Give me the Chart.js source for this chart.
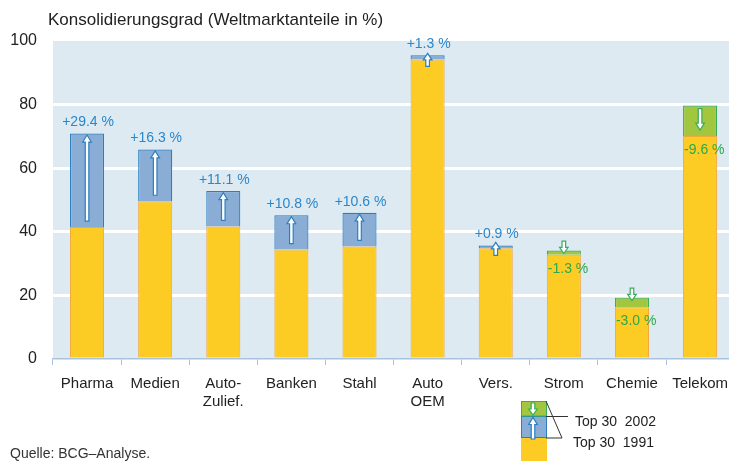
<!DOCTYPE html>
<html>
<head>
<meta charset="utf-8">
<script src="https://cdn.jsdelivr.net/npm/chart.js@4"></script>
<style>
  html, body { margin: 0; padding: 0; background: #fff; overflow: hidden; }
  #wrap { position: absolute; left: 0; top: 0; width: 737px; height: 461px; }
</style>
</head>
<body>
<div id="wrap"><canvas id="c"></canvas></div>
<script>
// ---- data ----
const categories = ["Pharma", "Medien", ["Auto-", "Zulief."], "Banken", "Stahl", ["Auto", "OEM"], "Vers.", "Strom", "Chemie", "Telekom"];
const top30_1991 = [41.5, 49.6, 41.7, 34.4, 35.4, 94.2, 34.8, 34.1, 19.3, 79.7];
const top30_2002 = [70.9, 65.9, 52.8, 45.2, 46.0, 95.5, 35.7, 32.8, 16.3, 70.1];
const yTicks = [0, 20, 40, 60, 80, 100];
const titleText = "Konsolidierungsgrad (Weltmarktanteile in %)";
const sourceText = "Quelle: BCG\u2013Analyse.";
const legendLabels = ["Top 30  2002", "Top 30  1991"];

// derived stacks
const baseVals = top30_1991.map((a, i) => Math.min(a, top30_2002[i]));
const incVals = top30_1991.map((a, i) => top30_2002[i] > a ? +(top30_2002[i] - a).toFixed(1) : null);
const decVals = top30_1991.map((a, i) => top30_2002[i] < a ? +(a - top30_2002[i]).toFixed(1) : null);

const COL = {
  yellow: '#FCCB24', yellowB: '#F2A83A',
  blue: '#8AADD6', blueB: '#2B7EC1', blueT: '#2A87CA',
  green: '#A2C73F', greenB: '#38AD5C', greenT: '#2AAA4C',
  bg: '#DDEAF2', axis: '#A9C3DF', text: '#222'
};

function drawArrow(ctx, x, yTail, yTip, stroke) {
  const dir = yTip < yTail ? -1 : 1;
  const len = Math.abs(yTip - yTail);
  const hl = Math.min(7, len * 0.5);
  const sw = 1.8, hw = 4.3;
  const yh = yTip - dir * hl;
  ctx.save();
  ctx.beginPath();
  ctx.moveTo(x - sw, yTail);
  ctx.lineTo(x - sw, yh);
  ctx.lineTo(x - hw, yh);
  ctx.lineTo(x, yTip);
  ctx.lineTo(x + hw, yh);
  ctx.lineTo(x + sw, yh);
  ctx.lineTo(x + sw, yTail);
  ctx.closePath();
  ctx.fillStyle = '#fff';
  ctx.fill();
  ctx.lineWidth = 1.2;
  ctx.strokeStyle = stroke;
  ctx.stroke();
  ctx.restore();
}

const bgPlugin = {
  id: 'bg',
  beforeDraw(chart) {
    const { ctx, chartArea: a } = chart;
    ctx.save();
    ctx.fillStyle = COL.bg;
    ctx.fillRect(a.left, a.top, a.right - a.left, a.bottom - a.top);
    ctx.restore();
  }
};

const decoPlugin = {
  id: 'deco',
  afterDatasetsDraw(chart) {
    const ctx = chart.ctx;
    const incMeta = chart.getDatasetMeta(1);
    const decMeta = chart.getDatasetMeta(2);
    ctx.save();
    ctx.font = '14px "Liberation Sans", Arial, sans-serif';
    ctx.textBaseline = 'middle';
    categories.forEach((c, i) => {
      const diff = top30_2002[i] - top30_1991[i];
      const label = (diff >= 0 ? '+' : '-') + Math.abs(diff).toFixed(1) + ' %';
      if (incVals[i] !== null) {
        const el = incMeta.data[i];
        const top = el.y, bot = el.base;
        let tip = top + 1.5, tail = bot - 6;
        if (tail - tip < 13) { tail = bot + 7; tip = tail - 13; }
        drawArrow(ctx, el.x, tail, tip, COL.blueB);
        ctx.fillStyle = COL.blueT;
        ctx.textAlign = 'center';
        ctx.fillText(label, el.x + 1, top - 11);
      } else if (decVals[i] !== null) {
        const el = decMeta.data[i];
        const top = el.y, bot = el.base;
        let tail = top + 3, tip = bot - 6;
        if (tip - tail < 13) { tip = top + 3; tail = tip - 12.5; }
        drawArrow(ctx, el.x, tail, tip, COL.greenB);
        ctx.fillStyle = COL.greenT;
        ctx.textAlign = 'left';
        ctx.fillText(label, el.x - el.width / 2 + 1, bot + 14);
      }
    });
    ctx.restore();
  },
  afterDraw(chart) {
    const ctx = chart.ctx;
    ctx.save();
    // title
    ctx.fillStyle = COL.text;
    ctx.font = '17px "Liberation Sans", Arial, sans-serif';
    ctx.textBaseline = 'middle';
    ctx.textAlign = 'left';
    ctx.fillText(titleText, 48, 20);
    // source
    ctx.fillStyle = '#333';
    ctx.font = '14px "Liberation Sans", Arial, sans-serif';
    ctx.fillText(sourceText, 10, 454);
    // legend key
    const lx = 521, lw = 26;
    ctx.fillStyle = COL.yellow;
    ctx.fillRect(lx, 438, lw, 30);
    ctx.fillStyle = COL.blue;
    ctx.fillRect(lx, 416, lw, 22);
    ctx.strokeStyle = COL.blueB; ctx.lineWidth = 1;
    ctx.strokeRect(lx + 0.5, 416.5, lw - 1, 21);
    ctx.fillStyle = COL.green;
    ctx.fillRect(lx, 401, lw, 15);
    ctx.strokeStyle = COL.greenB;
    ctx.strokeRect(lx + 0.5, 401.5, lw - 1, 14.5);
    drawArrow(ctx, 533, 403, 415, COL.greenB);
    drawArrow(ctx, 533, 439, 417.5, COL.blueB);
    ctx.strokeStyle = '#333'; ctx.lineWidth = 1;
    ctx.beginPath();
    ctx.moveTo(546, 401); ctx.lineTo(562, 438); ctx.lineTo(546, 438);
    ctx.moveTo(546, 416.5); ctx.lineTo(568, 416.5);
    ctx.stroke();
    ctx.fillStyle = COL.text;
    ctx.fillText(legendLabels[0], 575, 422);
    ctx.fillText(legendLabels[1], 573, 443);
    ctx.restore();
  }
};

new Chart(document.getElementById('c'), {
  type: 'bar',
  data: {
    labels: categories,
    datasets: [
      { label: 'base', data: baseVals, backgroundColor: COL.yellow, borderColor: COL.yellowB, borderWidth: 1 },
      { label: 'Zunahme', data: incVals, backgroundColor: COL.blue, borderColor: COL.blueB, borderWidth: 1.2 },
      { label: 'Abnahme', data: decVals, backgroundColor: COL.green, borderColor: COL.greenB, borderWidth: 1.2 }
    ]
  },
  options: {
    responsive: true,
    maintainAspectRatio: false,
    animation: false,
    events: [],
    layout: { padding: { top: 41, left: 0, right: 0, bottom: 0 } },
    datasets: { bar: { categoryPercentage: 1, barPercentage: 0.5, borderSkipped: 'start' } },
    plugins: { legend: { display: false }, tooltip: { enabled: false }, title: { display: false } },
    scales: {
      x: {
        stacked: true,
        offset: true,
        afterFit(s) { s.height = 102; },
        grid: { drawOnChartArea: false, offset: true, tickLength: 6, color: COL.axis, lineWidth: 1 },
        border: { display: true, color: COL.axis, width: 1.5 },
        ticks: { color: COL.text, font: { family: '"Liberation Sans", Arial, sans-serif', size: 15, lineHeight: 1.25 }, padding: 9, maxRotation: 0, autoSkip: false }
      },
      y: {
        stacked: true,
        min: 0, max: 100,
        afterFit(s) { s.width = 53; },
        afterBuildTicks(s) { s.ticks = yTicks.map(v => ({ value: v })); },
        grid: {
          drawTicks: false,
          lineWidth: 3,
          color: (c) => (c.tick && (c.tick.value === 0 || c.tick.value === 100)) ? 'rgba(0,0,0,0)' : '#ffffff'
        },
        border: { display: false },
        ticks: { color: COL.text, font: { family: '"Liberation Sans", Arial, sans-serif', size: 16 }, padding: 16 }
      }
    }
  },
  plugins: [bgPlugin, decoPlugin]
});
</script>
</body>
</html>
